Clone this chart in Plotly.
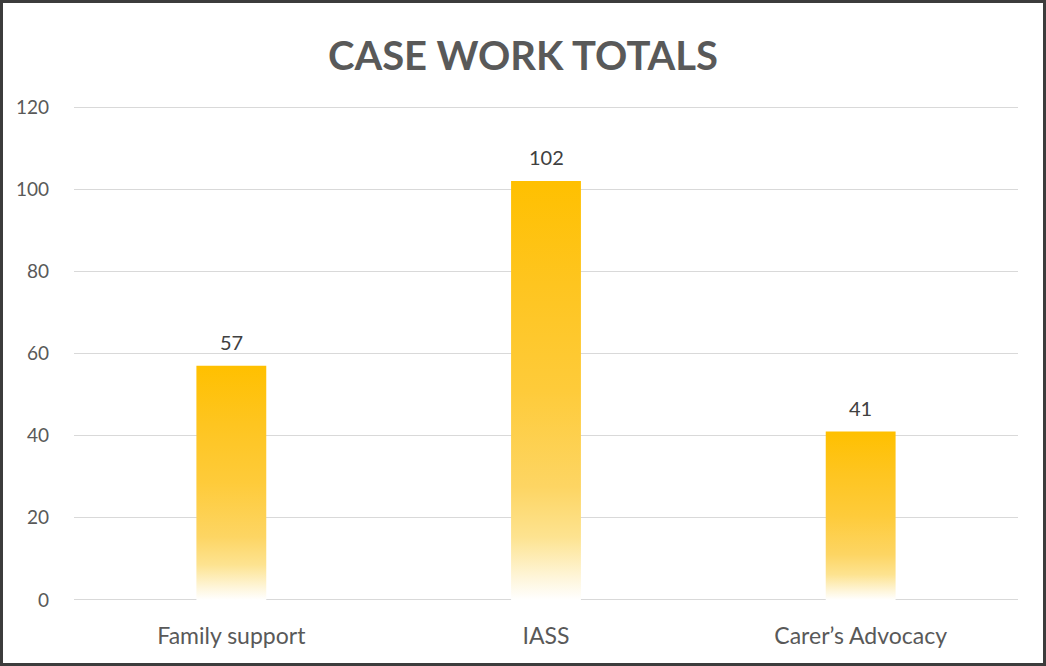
import plotly.graph_objects as go

categories = ["Family support", "IASS", "Carer’s Advocacy"]
values = [57, 102, 41]
y_ticks = [0, 20, 40, 60, 80, 100, 120]
title_text = "CASE WORK TOTALS"

W, H = 1046, 666
ML, MR, MT, MB = 74, 28, 105, 64
PW, PH = W - ML - MR, H - MT - MB
half = 0.111
pad = 0.5

grad = [[0.0, "#FFFFFF"], [0.05, "#FEF6DC"], [0.15, "#FDE390"], [0.27, "#FDD563"],
        [0.5, "#FECB3A"], [0.75, "#FEC520"], [1.0, "#FFC000"]]

fig = go.Figure()
for i, (c, v) in enumerate(zip(categories, values)):
    fig.add_trace(go.Scatter(
        x=[i - half, i + half, i + half, i - half, i - half],
        y=[0, 0, v, v, 0],
        mode="lines", fill="toself", line=dict(width=0),
        fillgradient=dict(type="vertical", colorscale=grad),
        hoverinfo="skip", showlegend=False))

annotations = [dict(x=i, y=v, xref="x", yref="y", text=str(v), showarrow=False,
                    yshift=24, yanchor="middle",
                    font=dict(family="Lato", size=20, color="#404040"))
               for i, v in enumerate(values)]

fig.update_layout(
    width=W, height=H, margin=dict(l=ML, r=MR, t=MT, b=MB),
    paper_bgcolor="white", plot_bgcolor="white",
    title=dict(text=f"<b>{title_text}</b>", x=0.5, xanchor="center", y=1 - 56 / H, yanchor="middle",
               font=dict(family="Lato", size=40, color="#595959")),
    xaxis=dict(range=[-0.5, len(categories) - 0.5], tickvals=list(range(len(categories))),
               ticktext=categories, showgrid=False, zeroline=False, showline=False,
               tickfont=dict(family="Lato", size=23, color="#595959"), ticks="", ticklabelstandoff=18),
    yaxis=dict(range=[-pad, 120 + pad], tickvals=y_ticks, showgrid=True, gridcolor="#D9D9D9", gridwidth=1,
               zeroline=False, showline=False,
               tickfont=dict(family="Lato", size=19, color="#595959"), ticks="", ticklabelstandoff=24),
    annotations=annotations,
    shapes=[dict(type="rect", xref="paper", yref="paper",
                 x0=(1.5 - ML) / PW, x1=(W - 1.5 - ML) / PW,
                 y0=(1.5 - MB) / PH, y1=(H - 1.5 - MB) / PH,
                 line=dict(color="#3C3C3C", width=3), fillcolor="rgba(0,0,0,0)", layer="above")],
)

fig.write_html("out.html")
